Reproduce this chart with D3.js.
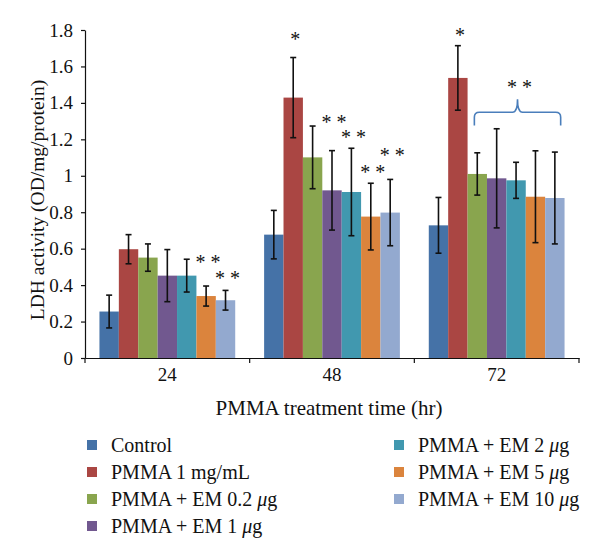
<!DOCTYPE html>
<html>
<head>
<meta charset="utf-8">
<script src="https://cdn.jsdelivr.net/npm/d3@7"></script>
<style>
  html, body { margin: 0; padding: 0; background: #fff; }
  svg { display: block; }
  text { font-family: "Liberation Serif", "DejaVu Serif", serif; fill: #111; }
</style>
</head>
<body>
<svg id="chart" width="600" height="559"></svg>
<script>
// ---------------- data ----------------
const groups = ["24", "48", "72"];
const seriesNames = ["Control", "PMMA 1 mg/mL", "PMMA + EM 0.2 \u03BCg", "PMMA + EM 1 \u03BCg",
                     "PMMA + EM 2 \u03BCg", "PMMA + EM 5 \u03BCg", "PMMA + EM 10 \u03BCg"];
const seriesColors = ["#4572A7", "#AA4643", "#89A54E", "#71588F", "#4198AF", "#DB843D", "#93A9CF"];
// values per series, in group order 24, 48, 72
const means = [
  [0.255, 0.677, 0.728],
  [0.597, 1.429, 1.537],
  [0.551, 1.101, 1.010],
  [0.452, 0.920, 0.986],
  [0.452, 0.911, 0.975],
  [0.340, 0.776, 0.885],
  [0.317, 0.798, 0.878]
];
const errors = [
  [0.090, 0.133, 0.153],
  [0.080, 0.220, 0.177],
  [0.075, 0.172, 0.116],
  [0.143, 0.218, 0.272],
  [0.090, 0.240, 0.099],
  [0.055, 0.183, 0.252],
  [0.054, 0.182, 0.252]
];
const yTickValues = [0, 0.2, 0.4, 0.6, 0.8, 1, 1.2, 1.4, 1.6, 1.8];
const yTickLabels = ["0", "0.2", "0.4", "0.6", "0.8", "1", "1.2", "1.4", "1.6", "1.8"];
const yTitle = "LDH activity (OD/mg/protein)";
const xTitle = "PMMA treatment time (hr)";
// significance marks: group, series index, text, level (data units)
const starGroups = ["24", "24", "48", "48", "48", "48", "48", "72"];
const starSeries = [5, 6, 1, 3, 4, 5, 6, 1];
const starTexts = ["* *", "* *", "*", "* *", "* *", "* *", "* *", "*"];
const starLevels = [0.543, 0.456, 1.767, 1.312, 1.231, 1.037, 1.132, 1.791];
// bracketed mark over series 2..6 at 72 hr
const braceGroup = "72";
const braceText = "* *";
const braceTextLevel = 1.504;
const braceLevels = [1.276, 1.349, 1.42]; // arm end, horizontal, peak

// ---------------- layout ----------------
const svg = d3.select("#chart");
const pLeft = 85, pRight = 579, pTop = 30, pBottom = 358;

const x0 = d3.scaleBand().domain(groups).range([pLeft, pRight]).padding(0);
const x1 = d3.scaleBand().domain(d3.range(seriesNames.length))
  .range([0, x0.bandwidth()]).paddingInner(0).paddingOuter(0.745);
const y = d3.scaleLinear().domain([0, 1.8]).range([pBottom, pTop]);
const bw = x1.bandwidth();

// bars
const barData = [];
seriesNames.forEach((s, si) => groups.forEach((g, gi) => {
  barData.push({ g, si, v: means[si][gi], e: errors[si][gi] });
}));

const barsG = svg.append("g");
barsG.selectAll("rect").data(barData).join("rect")
  .attr("x", d => x0(d.g) + x1(d.si))
  .attr("y", d => y(d.v))
  .attr("width", bw)
  .attr("height", d => y(0) - y(d.v))
  .attr("fill", d => seriesColors[d.si]);

// error bars
const errG = svg.append("g").attr("stroke", "#111").attr("stroke-width", 1.6);
barData.forEach(d => {
  const cx = x0(d.g) + x1(d.si) + bw / 2;
  const y1 = y(d.v + d.e), y2 = y(d.v - d.e);
  errG.append("line").attr("x1", cx).attr("x2", cx).attr("y1", y1).attr("y2", y2);
  errG.append("line").attr("x1", cx - 3).attr("x2", cx + 3).attr("y1", y1).attr("y2", y1);
  errG.append("line").attr("x1", cx - 3).attr("x2", cx + 3).attr("y1", y2).attr("y2", y2);
});

// y axis
const yAxis = d3.axisLeft(y).tickValues(yTickValues)
  .tickFormat((d, i) => yTickLabels[i]).tickSize(4).tickSizeOuter(0).tickPadding(8);
const yg = svg.append("g").attr("transform", `translate(${pLeft},0)`).call(yAxis);
yg.select(".domain").attr("stroke", "#111").attr("stroke-width", 1.2);
yg.selectAll(".tick line").attr("stroke", "#111").attr("stroke-width", 1.2);
yg.selectAll(".tick text").attr("font-family", "Liberation Serif").attr("font-size", 19).attr("fill", "#111");

// x axis
const xAxis = d3.axisBottom(x0).tickSize(0).tickPadding(9);
const xg = svg.append("g").attr("transform", `translate(0,${pBottom})`).call(xAxis);
xg.select(".domain").attr("stroke", "#111").attr("stroke-width", 1.2);
xg.selectAll(".tick text").attr("font-family", "Liberation Serif").attr("font-size", 19).attr("fill", "#111")
  .attr("dy", "0.75em");
const boundaries = groups.map(g => x0(g)).concat([x0(groups[groups.length - 1]) + x0.bandwidth()]);
xg.selectAll(".bnd").data(boundaries).join("line")
  .attr("x1", d => d).attr("x2", d => d).attr("y1", 0).attr("y2", 5)
  .attr("stroke", "#111").attr("stroke-width", 1.2);

// axis titles
svg.append("text")
  .attr("transform", `translate(37,${(pTop + pBottom) / 2 + 6}) rotate(-90)`)
  .attr("text-anchor", "middle").attr("dominant-baseline", "central")
  .attr("font-size", 19.5).text(yTitle);
svg.append("text")
  .attr("x", (pLeft + pRight) / 2 - 3).attr("y", 415)
  .attr("text-anchor", "middle").attr("font-size", 21).text(xTitle);

// significance stars
const starG = svg.append("g");
starTexts.forEach((t, i) => {
  const cx = x0(starGroups[i]) + x1(starSeries[i]) + bw / 2 + 2;
  starG.append("text").attr("x", cx).attr("y", y(starLevels[i]) + 10)
    .attr("text-anchor", "middle").attr("font-size", 20).attr("fill", "#222").text(t);
});

// brace
const bx1 = x0(braceGroup) + x1(2) + bw * 0.35;
const bx2 = x0(braceGroup) + x1(6) + bw * 0.8;
const bmid = (bx1 + bx2) / 2;
const ya = y(braceLevels[0]), yh = y(braceLevels[1]), yp = y(braceLevels[2]);
const r = 5;
const p = d3.path();
p.moveTo(bx1, ya);
p.lineTo(bx1, yh + r);
p.quadraticCurveTo(bx1, yh, bx1 + r, yh);
p.lineTo(bmid - r, yh);
p.quadraticCurveTo(bmid, yh, bmid, yp);
p.quadraticCurveTo(bmid, yh, bmid + r, yh);
p.lineTo(bx2 - r, yh);
p.quadraticCurveTo(bx2, yh, bx2, yh + r);
p.lineTo(bx2, ya);
svg.append("path").attr("d", p.toString()).attr("fill", "none")
  .attr("stroke", "#4a7ebb").attr("stroke-width", 1.6);
svg.append("text").attr("x", bmid + 2).attr("y", y(braceTextLevel) + 10)
  .attr("text-anchor", "middle").attr("font-size", 20).attr("fill", "#222").text(braceText);

// legend
const legendCols = [0, 0, 0, 0, 1, 1, 1];
const legendRows = [0, 1, 2, 3, 0, 1, 2];
const colX = [87, 394];
const lg = svg.append("g");
seriesNames.forEach((s, i) => {
  const lx = colX[legendCols[i]];
  const ly = 445 + legendRows[i] * 27;
  lg.append("rect").attr("x", lx).attr("y", ly - 5).attr("width", 10).attr("height", 10)
    .attr("fill", seriesColors[i]);
  const t = lg.append("text").attr("x", lx + 24).attr("y", ly + 7).attr("font-size", 20);
  const parts = s.split("\u03BC");
  t.append("tspan").text(parts[0]);
  if (parts.length > 1) {
    t.append("tspan").attr("font-style", "italic").text("\u03BC");
    t.append("tspan").text(parts[1]);
  }
});
</script>
</body>
</html>
